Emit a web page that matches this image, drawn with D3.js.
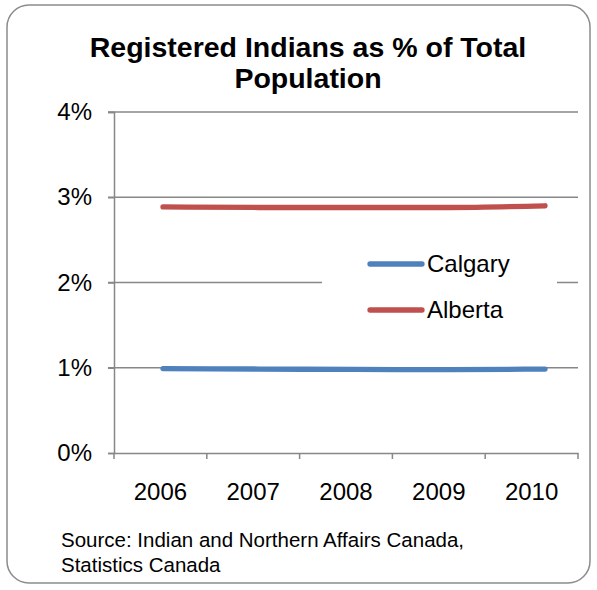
<!DOCTYPE html>
<html>
<head>
<meta charset="utf-8">
<script src="https://cdn.jsdelivr.net/npm/d3@7"></script>
<style>
  body { margin: 0; background: #fff; }
  svg { font-family: "Liberation Sans", Arial, sans-serif; }
</style>
</head>
<body>
<svg id="chart" width="597" height="590"></svg>
<script>
// chart data
var years = ["2006", "2007", "2008", "2009", "2010"];
var calgary = [0.99, 0.985, 0.98, 0.978, 0.985];
var alberta = [2.886, 2.88, 2.88, 2.88, 2.9];
var yTicks = [0, 1, 2, 3, 4];
var seriesNames = ["Calgary", "Alberta"];
var seriesColors = ["#4F81BD", "#C0504D"];

var svg = d3.select("#chart");

// outer frame
svg.append("rect")
    .attr("x", 7).attr("y", 5)
    .attr("width", 583).attr("height", 578)
    .attr("rx", 22).attr("ry", 22)
    .attr("fill", "#fff")
    .attr("stroke", "#8c8c8c")
    .attr("stroke-width", 1.5);

// title
var title = svg.append("text")
    .attr("text-anchor", "middle")
    .attr("font-weight", "bold")
    .attr("font-size", 28.5)
    .attr("fill", "#000");
title.append("tspan").attr("x", 308).attr("y", 57).text("Registered Indians as % of Total");
title.append("tspan").attr("x", 308).attr("y", 88).text("Population");

var plotLeft = 114, plotRight = 578, plotTop = 112, plotBottom = 453;

var x = d3.scaleBand()
    .domain(years)
    .range([plotLeft, plotRight]);

// the series are drawn a little wider than the label centres
var xLine = d3.scalePoint()
    .domain(years)
    .range([163, 545]);

var y = d3.scaleLinear()
    .domain([0, 4])
    .range([plotBottom, plotTop]);

// gridlines
svg.append("g")
    .selectAll("line")
    .data(yTicks.filter(function(d) { return d > 0; }))
    .enter().append("line")
    .attr("x1", plotLeft - 6).attr("x2", plotRight)
    .attr("y1", function(d) { return y(d); })
    .attr("y2", function(d) { return y(d); })
    .attr("stroke", "#878787")
    .attr("stroke-width", 1.5);

// y axis
var yAxis = svg.append("g")
    .attr("transform", "translate(" + plotLeft + ",0)")
    .call(d3.axisLeft(y).tickValues(yTicks).tickSize(6).tickPadding(16)
        .tickFormat(function(d) { return d + "%"; }));
yAxis.selectAll("text").attr("font-size", 24).attr("fill", "#000")
    .attr("font-family", "Liberation Sans, Arial, sans-serif");
yAxis.selectAll("line, path").attr("stroke", "#878787").attr("stroke-width", 1.5);

// x axis
var xAxis = svg.append("g")
    .attr("transform", "translate(0," + plotBottom + ")")
    .call(d3.axisBottom(x).tickSize(0).tickPadding(30));
xAxis.select("path").attr("stroke", "#878787").attr("stroke-width", 1.5);
xAxis.selectAll("text").attr("font-size", 24).attr("fill", "#000")
    .attr("font-family", "Liberation Sans, Arial, sans-serif");
// tick marks between categories
xAxis.selectAll(".sep")
    .data(years.concat(["end"]))
    .enter().append("line")
    .attr("class", "sep")
    .attr("x1", function(d, i) { return plotLeft + i * x.step(); })
    .attr("x2", function(d, i) { return plotLeft + i * x.step(); })
    .attr("y1", 0).attr("y2", 6)
    .attr("stroke", "#878787")
    .attr("stroke-width", 1.5);

// legend (white box hides gridline)
svg.append("rect")
    .attr("x", 322).attr("y", 240)
    .attr("width", 235).attr("height", 92)
    .attr("fill", "#fff");

var line = d3.line()
    .x(function(d, i) { return xLine(years[i]); })
    .y(function(d) { return y(d); })
    .curve(d3.curveMonotoneX);

[calgary, alberta].forEach(function(s, i) {
    svg.append("path")
        .datum(s)
        .attr("fill", "none")
        .attr("stroke", seriesColors[i])
        .attr("stroke-width", 5.3)
        .attr("stroke-linecap", "round")
        .attr("d", line);
});

var legend = svg.append("g");
seriesNames.forEach(function(name, i) {
    var ly = 264 + i * 46;
    legend.append("line")
        .attr("x1", 370).attr("x2", 422)
        .attr("y1", ly).attr("y2", ly)
        .attr("stroke", seriesColors[i])
        .attr("stroke-width", 5.3)
        .attr("stroke-linecap", "round");
    legend.append("text")
        .attr("x", 427).attr("y", ly + 8)
        .attr("font-size", 24)
        .attr("fill", "#000")
        .text(name);
});

// source note
var note = svg.append("text")
    .attr("font-size", 20.5)
    .attr("fill", "#000");
note.append("tspan").attr("x", 61).attr("y", 547).text("Source: Indian and Northern Affairs Canada,");
note.append("tspan").attr("x", 61).attr("y", 572).text("Statistics Canada");
</script>
</body>
</html>
